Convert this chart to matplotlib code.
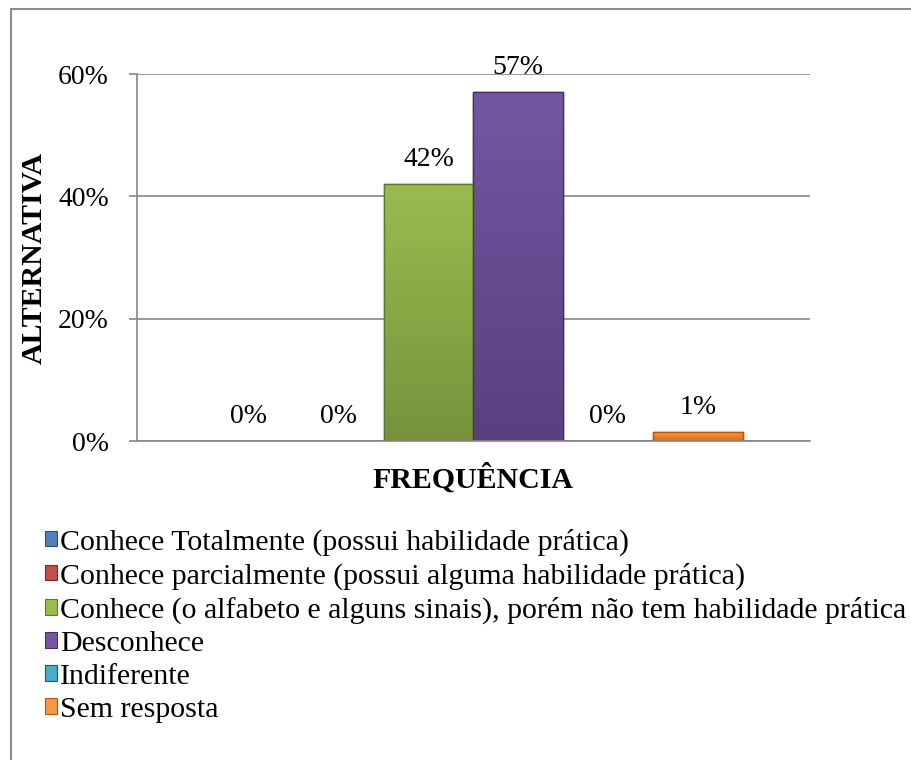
import matplotlib
matplotlib.use("Agg")
import matplotlib.pyplot as plt
import numpy as np
from matplotlib.colors import to_rgb
from matplotlib.patches import Patch, Rectangle

# data
categories = [
    "Conhece Totalmente (possui habilidade prática)",
    "Conhece parcialmente (possui alguma habilidade prática)",
    "Conhece (o alfabeto e alguns sinais), porém não tem habilidade prática",
    "Desconhece",
    "Indiferente",
    "Sem resposta",
]
values = [0.0, 0.0, 0.42, 0.57, 0.0, 0.014]
value_labels = ["0%", "0%", "42%", "57%", "0%", "1%"]
colors = ["#4F81BD", "#C0504D", "#9BBB4F", "#7556A2", "#4BACC6", "#F79646"]
dark_colors = ["#365F91", "#943634", "#76933C", "#5A4080", "#31849B", "#E36C09"]
edge_colors = ["#2C4D75", "#772C2A", "#5F772D", "#46325F", "#215968", "#B65708"]
yticks = [0, 0.2, 0.4, 0.6]
ytick_labels = ["0%", "20%", "40%", "60%"]

plt.rcParams['font.family'] = ['Liberation Serif', 'DejaVu Serif']

fig = plt.figure(figsize=(9.12, 7.6), dpi=100)
ax = fig.add_axes([0.150, 0.4197, 0.738, 0.4829])

# outer chart frame
fig.patches.append(Rectangle((0.012, -0.05), 1.2, 0.0375 + 1.0,
                             transform=fig.transFigure, fill=False,
                             edgecolor="#8C8C8C", linewidth=1.5))

n = len(values)
width = 0.8 / n
for i, (v, lab) in enumerate(zip(values, value_labels)):
    x = (i - (n - 1) / 2) * width
    bars = ax.bar(x, v, width=width, color=colors[i], edgecolor=edge_colors[i],
                  linewidth=1.0, zorder=3)
    rect = bars[0]
    if v > 0:
        # vertical gradient like the Excel bevel fill (light top, dark bottom)
        top = np.array(to_rgb(colors[i]))
        bot = np.array(to_rgb(dark_colors[i]))
        t = np.linspace(0, 1, 64)[:, None]
        grad = (top * (1 - t) + bot * t)[:, None, :]
        x0, w, h = rect.get_x(), rect.get_width(), rect.get_height()
        im = ax.imshow(grad, extent=[x0, x0 + w, 0, h], origin="upper",
                       aspect="auto", zorder=3.5, interpolation="bilinear")
        im.set_clip_path(rect)
        ax.add_patch(Rectangle((x0, 0), w, h, fill=False,
                               edgecolor=edge_colors[i], linewidth=1.0, zorder=4))
    ax.annotate(lab, (x, v), xytext=(0, 25), textcoords="offset pixels",
                ha="center", va="center", fontsize=20)

ax.set_xlim(-0.5, 0.5)
ax.set_ylim(0, 0.6)
ax.set_yticks(yticks)
ax.set_yticklabels(ytick_labels, fontsize=20)
ax.set_xticks([])
ax.tick_params(axis="y", length=6, width=1.2, color="#868686", pad=14)
ax.yaxis.grid(True, color="#868686", linewidth=1.2, zorder=0)
ax.set_axisbelow(True)
for side in ["top", "right"]:
    ax.spines[side].set_visible(False)
for side in ["left", "bottom"]:
    ax.spines[side].set_color("#868686")
    ax.spines[side].set_linewidth(1.2)
    ax.spines[side].set_zorder(5)

fig.text(0.519, 0.371, "FREQUÊNCIA", ha="center", va="center",
         fontsize=21.5, fontweight="bold")
fig.text(0.038, 0.661, "ALTERNATIVA", ha="center", va="center",
         rotation=90, fontsize=21.5, fontweight="bold")

handles = [Patch(facecolor=c, edgecolor=e, linewidth=0.8)
           for c, e in zip(colors, edge_colors)]
fig.legend(handles, categories, loc="upper left",
           bbox_to_anchor=(0.049, 0.305), frameon=False,
           prop={"family": ["Liberation Serif", "DejaVu Serif"], "size": 21.5},
           handlelength=0.42, handleheight=0.42, handletextpad=0.1,
           labelspacing=0.23, borderaxespad=0, borderpad=0)

fig.savefig("out.png", dpi=100)
